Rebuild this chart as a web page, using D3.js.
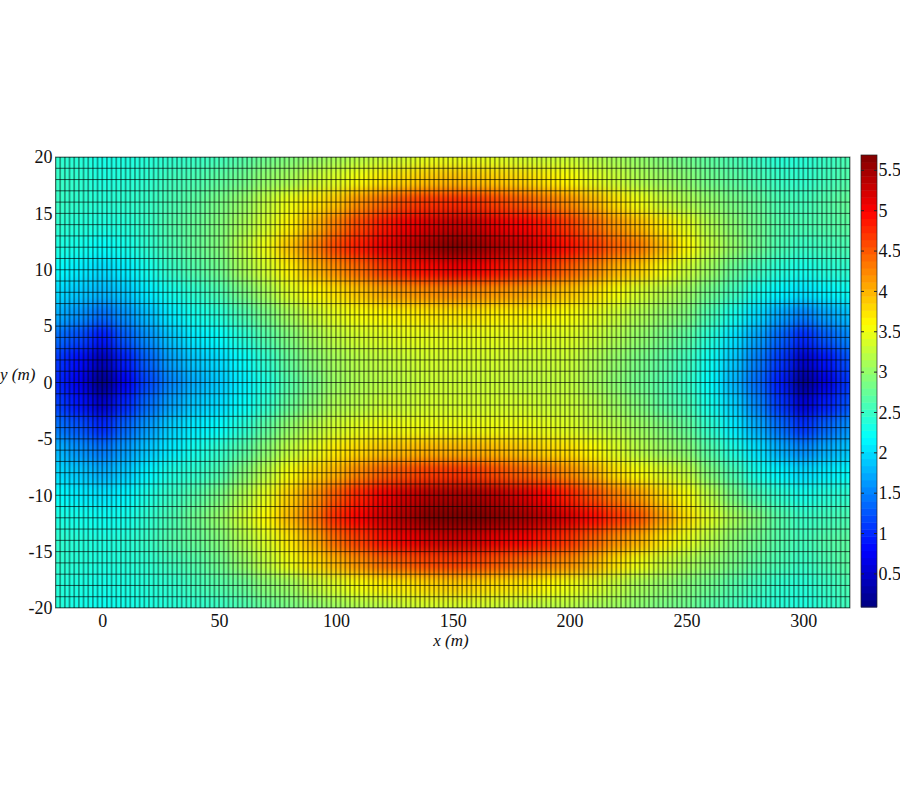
<!DOCTYPE html>
<html><head><meta charset="utf-8">
<script src="https://cdn.jsdelivr.net/npm/d3@7"></script>
<style>html,body{margin:0;padding:0;background:#fff}svg{display:block}text{font-family:"Liberation Serif",serif;fill:#111}</style>
</head><body><svg id="c" width="900" height="798"></svg>
<script>
const xCenters=[-20,-10,0,10,20,30,40,50,60,70,80,90,100,110,120,130,140,150,160,170,180,190,200,210,220,230,240,250,260,270,280,290,300,310,320];
const yCenters=[20,18,16,14,12,10,8,6,4,2,0,-2,-4,-6,-8,-10,-12,-14,-16,-18,-20];
const zRows=[
[2.45,2.4,2.3,2.35,2.4,2.45,2.5,2.55,2.65,2.8,2.9,3.0,3.1,3.2,3.3,3.35,3.45,3.45,3.45,3.4,3.35,3.3,3.3,3.2,3.1,3.0,2.9,2.8,2.7,2.6,2.5,2.4,2.4,2.5,2.6],
[2.5,2.45,2.35,2.4,2.45,2.55,2.6,2.7,2.8,3.0,3.1,3.3,3.4,3.55,3.7,3.8,3.9,3.95,3.9,3.85,3.8,3.7,3.6,3.45,3.3,3.15,3.05,2.95,2.8,2.7,2.6,2.5,2.45,2.55,2.65],
[2.5,2.45,2.4,2.45,2.5,2.6,2.7,2.85,3.0,3.25,3.5,3.7,3.9,4.2,4.4,4.6,4.7,4.75,4.7,4.6,4.5,4.35,4.2,4.0,3.75,3.5,3.3,3.15,3.0,2.85,2.75,2.6,2.55,2.65,2.75],
[2.45,2.4,2.35,2.4,2.5,2.65,2.75,2.9,3.1,3.35,3.65,3.95,4.3,4.6,4.85,5.05,5.2,5.3,5.25,5.1,5.0,4.85,4.65,4.4,4.15,3.95,3.7,3.45,3.15,2.95,2.8,2.65,2.6,2.65,2.7],
[2.35,2.3,2.2,2.3,2.45,2.6,2.75,2.9,3.2,3.5,3.9,4.25,4.6,4.85,5.1,5.3,5.5,5.65,5.55,5.4,5.3,5.1,4.9,4.7,4.45,4.3,3.95,3.6,3.25,3.0,2.8,2.6,2.5,2.55,2.6],
[2.2,2.1,2.0,2.1,2.3,2.5,2.65,2.8,3.1,3.35,3.65,3.95,4.2,4.4,4.65,4.85,4.95,5.05,5.0,4.9,4.8,4.65,4.45,4.25,4.0,3.85,3.55,3.3,3.05,2.75,2.55,2.4,2.3,2.4,2.45],
[2.0,1.9,1.8,1.9,2.1,2.3,2.45,2.6,2.85,3.1,3.4,3.6,3.75,3.9,4.05,4.15,4.2,4.25,4.2,4.15,4.1,4.0,3.9,3.75,3.55,3.35,3.2,3.05,2.8,2.55,2.3,2.15,2.05,2.15,2.25],
[1.75,1.6,1.4,1.6,1.85,2.1,2.3,2.4,2.6,2.85,3.1,3.3,3.45,3.55,3.6,3.65,3.7,3.7,3.7,3.65,3.65,3.6,3.55,3.45,3.3,3.15,3.0,2.9,2.6,2.3,2.0,1.7,1.5,1.7,1.85],
[1.4,1.2,0.9,1.3,1.6,1.9,2.1,2.2,2.4,2.65,2.9,3.1,3.25,3.35,3.4,3.45,3.45,3.45,3.45,3.45,3.45,3.4,3.4,3.3,3.15,3.0,2.85,2.7,2.4,2.05,1.7,1.35,1.0,1.3,1.55],
[1.1,0.85,0.4,0.95,1.35,1.7,1.9,2.0,2.2,2.45,2.75,2.95,3.1,3.2,3.25,3.3,3.35,3.35,3.35,3.35,3.3,3.3,3.3,3.15,3.0,2.85,2.7,2.55,2.25,1.9,1.5,1.1,0.5,0.9,1.25],
[1.0,0.7,0.15,0.75,1.2,1.55,1.75,1.9,2.1,2.35,2.65,2.85,3.05,3.15,3.2,3.25,3.3,3.3,3.3,3.3,3.25,3.25,3.25,3.1,2.95,2.8,2.65,2.5,2.2,1.8,1.4,0.95,0.2,0.65,1.1],
[1.15,0.9,0.5,1.0,1.4,1.7,1.9,2.0,2.2,2.45,2.75,2.95,3.15,3.2,3.3,3.3,3.35,3.35,3.35,3.35,3.35,3.3,3.3,3.2,3.05,2.9,2.7,2.6,2.3,1.95,1.55,1.1,0.55,0.95,1.25],
[1.45,1.25,1.0,1.35,1.65,1.95,2.1,2.2,2.4,2.7,3.0,3.2,3.35,3.45,3.5,3.5,3.5,3.5,3.5,3.5,3.5,3.45,3.4,3.3,3.2,3.05,2.9,2.75,2.45,2.1,1.75,1.4,1.05,1.35,1.6],
[1.8,1.6,1.45,1.65,1.9,2.1,2.3,2.45,2.65,2.95,3.25,3.45,3.7,3.8,3.9,3.95,4.0,4.0,4.0,3.95,3.9,3.8,3.75,3.6,3.4,3.2,3.05,2.95,2.65,2.35,2.05,1.75,1.55,1.75,1.9],
[2.0,1.9,1.75,1.9,2.15,2.35,2.45,2.6,2.9,3.2,3.55,3.8,4.0,4.25,4.45,4.55,4.65,4.7,4.65,4.55,4.45,4.35,4.2,4.0,3.75,3.55,3.4,3.25,2.9,2.6,2.3,2.15,2.0,2.1,2.2],
[2.2,2.1,2.05,2.15,2.35,2.5,2.65,2.85,3.15,3.45,3.85,4.15,4.5,4.8,5.05,5.25,5.4,5.45,5.45,5.35,5.2,5.0,4.8,4.55,4.3,4.1,3.8,3.55,3.2,2.85,2.6,2.45,2.3,2.4,2.45],
[2.35,2.3,2.25,2.3,2.45,2.6,2.8,3.0,3.3,3.6,3.95,4.3,4.75,5.0,5.25,5.45,5.65,5.75,5.7,5.6,5.5,5.35,5.2,4.95,4.7,4.5,4.1,3.75,3.4,3.1,2.9,2.65,2.5,2.55,2.6],
[2.45,2.4,2.35,2.4,2.5,2.65,2.75,2.9,3.15,3.4,3.7,4.0,4.4,4.65,4.9,5.05,5.2,5.25,5.2,5.1,5.0,4.85,4.7,4.45,4.2,4.0,3.7,3.45,3.2,2.95,2.8,2.65,2.55,2.65,2.7],
[2.45,2.4,2.35,2.4,2.45,2.55,2.65,2.8,3.0,3.25,3.5,3.75,4.0,4.2,4.4,4.5,4.6,4.65,4.6,4.5,4.4,4.3,4.2,4.0,3.75,3.5,3.3,3.15,3.0,2.85,2.7,2.6,2.5,2.6,2.7],
[2.4,2.35,2.3,2.35,2.4,2.45,2.55,2.65,2.75,2.95,3.05,3.25,3.4,3.55,3.65,3.7,3.8,3.85,3.8,3.75,3.7,3.6,3.5,3.4,3.25,3.1,3.0,2.9,2.8,2.65,2.55,2.45,2.4,2.5,2.6],
[2.4,2.3,2.25,2.3,2.35,2.4,2.45,2.5,2.6,2.75,2.85,2.95,3.05,3.15,3.2,3.3,3.35,3.35,3.35,3.3,3.25,3.2,3.2,3.1,3.05,2.95,2.85,2.8,2.65,2.55,2.45,2.4,2.35,2.45,2.55]
];
const xTicks=[0,50,100,150,200,250,300];
const yTicks=[20,15,10,5,0,-5,-10,-15,-20];
const cTicks=[0.5,1,1.5,2,2.5,3,3.5,4,4.5,5,5.5];
const cTickLabels=["0.5","1","1.5","2","2.5","3","3.5","4","4.5","5","5.5"];
const xDomain=[-20,320], yDomain=[-20,20], cDomain=[0.09,5.69];
const meshDx=2, meshDy=1;

const svg=d3.select("#c");
const x=d3.scaleLinear().domain(xDomain).range([55.5,850]);
const y=d3.scaleLinear().domain(yDomain).range([608,157]);
const cy=d3.scaleLinear().domain(cDomain).range([607,155]);
const jetStops=[0,0.125,0.375,0.625,0.875,1];
const jet=d3.scaleLinear().domain(jetStops.map(t=>cDomain[0]+t*(cDomain[1]-cDomain[0])))
  .range(["#00007f","#0000ff","#00ffff","#ffff00","#ff0000","#7f0000"]).clamp(true);

const defs=svg.append("defs");
defs.append("clipPath").attr("id","plot").append("rect")
  .attr("x",x(xDomain[0])).attr("y",y(yDomain[1])).attr("width",x(xDomain[1])-x(xDomain[0])).attr("height",y(yDomain[0])-y(yDomain[1]));
defs.append("filter").attr("id","soft").attr("filterUnits","userSpaceOnUse")
  .attr("x",-50).attr("y",50).attr("width",1000).attr("height",700)
  .attr("color-interpolation-filters","sRGB")
  .append("feGaussianBlur").attr("stdDeviation","7 6");

const plot=svg.append("g").attr("clip-path","url(#plot)");
const heat=plot.append("g").attr("filter","url(#soft)");
const bleed=40;
const cells=[];
zRows.forEach((r,j)=>r.forEach((v,i)=>cells.push({i,j,v})));
const xEdge=i=>i<0?x(xCenters[0])-bleed:i>=xCenters.length-1?x(xCenters[xCenters.length-1])+bleed:x((xCenters[i]+xCenters[i+1])/2);
const yEdge=j=>j<0?y(yCenters[0])-bleed:j>=yCenters.length-1?y(yCenters[yCenters.length-1])+bleed:y((yCenters[j]+yCenters[j+1])/2);
heat.selectAll("rect").data(cells).join("rect")
  .attr("x",d=>xEdge(d.i-1)).attr("y",d=>yEdge(d.j-1))
  .attr("width",d=>xEdge(d.i)-xEdge(d.i-1)+0.5).attr("height",d=>yEdge(d.j)-yEdge(d.j-1)+0.5)
  .attr("fill",d=>jet(d.v));

const xMesh=d3.range(xDomain[0],xDomain[1]+meshDx/2,meshDx);
const yMesh=d3.range(yDomain[0],yDomain[1]+meshDy/2,meshDy);
plot.append("g").selectAll("line").data(xMesh).join("line")
  .attr("x1",d=>x(d)).attr("x2",d=>x(d)).attr("y1",y(yDomain[0])).attr("y2",y(yDomain[1]))
  .attr("stroke","#000").attr("stroke-opacity",0.4).attr("stroke-width",1.8);
plot.append("g").selectAll("line").data(yMesh).join("line")
  .attr("y1",d=>y(d)).attr("y2",d=>y(d)).attr("x1",x(xDomain[0])).attr("x2",x(xDomain[1]))
  .attr("stroke","#000").attr("stroke-opacity",0.65).attr("stroke-width",1);
svg.append("rect").attr("x",x(xDomain[0])).attr("y",y(yDomain[1]))
  .attr("width",x(xDomain[1])-x(xDomain[0])).attr("height",y(yDomain[0])-y(yDomain[1]))
  .attr("fill","none").attr("stroke","#000").attr("stroke-opacity",0.5);

const xAx=svg.append("g").attr("transform",`translate(0,${y(yDomain[0])})`)
  .call(d3.axisBottom(x).tickValues(xTicks).tickFormat(String).tickSize(0).tickPadding(6));
const yAx=svg.append("g").attr("transform",`translate(${x(xDomain[0])},0)`)
  .call(d3.axisLeft(y).tickValues(yTicks).tickFormat(String).tickSize(0).tickPadding(3));
[xAx,yAx].forEach(a=>{a.select(".domain").remove();a.selectAll("text").style("font-family",'"Liberation Serif",serif').style("font-size","18px").style("fill","#111");});
svg.append("text").attr("x",451).attr("y",646).attr("text-anchor","middle").attr("font-style","italic").attr("font-size",17).text("x (m)");
svg.append("text").attr("x",0).attr("y",380).attr("font-style","italic").attr("font-size",17).text("y (m)");

// colour bar
const bar=svg.append("g");
const barX0=861, barX1=877;
const steps=d3.range(64);
bar.selectAll("rect").data(steps).join("rect")
  .attr("x",barX0).attr("width",barX1-barX0)
  .attr("y",k=>cy(cDomain[0]+(k+1)/64*(cDomain[1]-cDomain[0])))
  .attr("height",k=>cy(cDomain[0]+k/64*(cDomain[1]-cDomain[0]))-cy(cDomain[0]+(k+1)/64*(cDomain[1]-cDomain[0]))+0.5)
  .attr("fill",k=>jet(cDomain[0]+(k+0.5)/64*(cDomain[1]-cDomain[0])));
svg.append("rect").attr("x",barX0).attr("y",cy(cDomain[1])).attr("width",barX1-barX0).attr("height",cy(cDomain[0])-cy(cDomain[1]))
  .attr("fill","none").attr("stroke","#222").attr("stroke-width",0.7);
const ct=svg.append("g").selectAll("g").data(cTicks).join("g");
ct.append("line").attr("x1",barX0).attr("x2",barX0+3).attr("y1",d=>cy(d)).attr("y2",d=>cy(d)).attr("stroke","#222");
ct.append("line").attr("x1",barX1-3).attr("x2",barX1).attr("y1",d=>cy(d)).attr("y2",d=>cy(d)).attr("stroke","#222");
ct.append("text").attr("x",878.5).attr("y",d=>cy(d)).attr("dy","0.34em").attr("font-size",18).text((d,i)=>cTickLabels[i]);
</script></body></html>
